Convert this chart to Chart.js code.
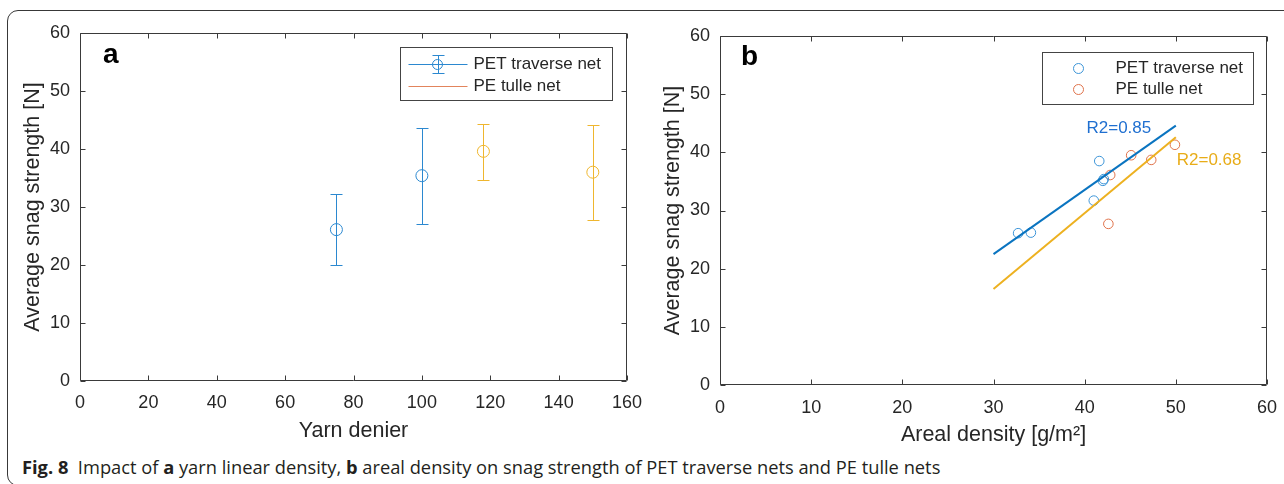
<!DOCTYPE html>
<html><head><meta charset="utf-8">
<script src="https://cdn.jsdelivr.net/npm/chart.js@4.4.0/dist/chart.umd.min.js"></script>
<style>
html,body{margin:0;padding:0;background:#fff;}
body{width:1284px;height:484px;position:relative;overflow:hidden;}
#frame{position:absolute;left:7px;top:10px;width:1320px;height:476px;border:1.4px solid #383838;border-radius:11px;box-sizing:border-box;}
#ca{position:absolute;left:0;top:0;}
#cb{position:absolute;left:640px;top:0;}
#caption{position:absolute;left:22px;top:455px;font-family:'Open Sans',sans-serif;font-size:18.3px;color:#231f20;white-space:nowrap;line-height:24px;}
#caption b{font-weight:700;}
</style></head><body>
<div id="frame"></div>
<canvas id="ca" width="645" height="450"></canvas>
<canvas id="cb" width="644" height="450"></canvas>
<div id="caption"><b>Fig. 8</b>&nbsp; Impact of <b>a</b> yarn linear density, <b>b</b> areal density on snag strength of PET traverse nets and PE tulle nets</div>
<script>
// ---------- data (panel a) ----------
const seriesNames = ['PET traverse net', 'PE tulle net'];
const denierPET = [75, 100];
const snagPET = [26.1, 35.4];
const errLowPET = [20.0, 27.1];
const errHighPET = [32.3, 43.6];
const denierPE = [118, 150];
const snagPE = [39.6, 36.0];
const errLowPE = [34.7, 27.8];
const errHighPE = [44.3, 44.2];
// ---------- data (panel b) ----------
const arealPET = [32.7, 34.1, 41.0, 41.6, 42.1, 42.0];
const snagArealPET = [26.1, 26.2, 31.7, 38.5, 35.4, 35.1];
const arealPE = [42.6, 42.8, 45.1, 47.3, 49.9];
const snagArealPE = [27.7, 36.1, 39.5, 38.7, 41.3];
const fitX = [30, 50];
const fitPET = [22.5, 44.6];
const fitPE = [16.5, 42.6];
const r2Texts = ['R2=0.85', 'R2=0.68'];
// ---------- ticks ----------
const xTicksA = [0, 20, 40, 60, 80, 100, 120, 140, 160];
const xTicksB = [0, 10, 20, 30, 40, 50, 60];
const yTicks = [0, 10, 20, 30, 40, 50, 60];
const xTitleA = 'Yarn denier';
const xTitleB = 'Areal density [g/m²]';
const yTitle = 'Average snag strength [N]';

const FONT = "'Liberation Sans', Arial, Helvetica, sans-serif";
const AX = '#262626';
const blueA = '#2b88d0', yellowA = '#efb62e', orangeLeg = '#e2845c';
const blueM = '#3d95d8', orangeM = '#e0734b', blueL = '#0a74c0', yellowL = '#edb120';

const pts = (xs, ys) => xs.map((x, i) => ({x, y: ys[i]}));
const setTicks = arr => s => { s.ticks = arr.map(v => ({value: v})); };
const fixSize = (prop, val) => s => {
  s[prop] = val;
  s.paddingLeft = 0; s.paddingRight = 0; s.paddingTop = 0; s.paddingBottom = 0;
};

const axesBox = {
  id: 'axesBox',
  afterDraw(chart, args, o) {
    const {ctx, chartArea: a, scales: {x, y}} = chart;
    const L = Math.round(a.left) + 0.5, R = Math.round(a.right) - 0.5, T = Math.round(a.top) + 0.5, B = Math.round(a.bottom) - 0.5;
    ctx.save();
    ctx.strokeStyle = o.color; ctx.lineWidth = 1;
    ctx.beginPath();
    ctx.rect(L, T, R - L, B - T);
    x.ticks.forEach(t => {
      const p = Math.round(x.getPixelForValue(t.value)) + 0.5;
      ctx.moveTo(p, B); ctx.lineTo(p, B - o.len);
      ctx.moveTo(p, T); ctx.lineTo(p, T + o.len);
    });
    y.ticks.forEach(t => {
      const p = Math.round(y.getPixelForValue(t.value)) + 0.5;
      ctx.moveTo(L, p); ctx.lineTo(L + o.len, p);
      ctx.moveTo(R, p); ctx.lineTo(R - o.len, p);
    });
    ctx.stroke();
    ctx.restore();
  }
};

const errorBars = {
  id: 'errorBars',
  afterDatasetsDraw(chart, args, o) {
    const {ctx, scales: {x, y}} = chart;
    chart.data.datasets.forEach(ds => {
      if (!ds.errLow) return;
      ctx.save();
      ctx.strokeStyle = ds.borderColor; ctx.lineWidth = 1;
      ds.data.forEach((p, i) => {
        const px = Math.round(x.getPixelForValue(p.x)) + 0.5;
        const yl = Math.round(y.getPixelForValue(ds.errLow[i])) + 0.5;
        const yh = Math.round(y.getPixelForValue(ds.errHigh[i])) + 0.5;
        ctx.beginPath();
        ctx.moveTo(px, yh); ctx.lineTo(px, yl);
        ctx.moveTo(px - o.cap, yh); ctx.lineTo(px + o.cap, yh);
        ctx.moveTo(px - o.cap, yl); ctx.lineTo(px + o.cap, yl);
        ctx.stroke();
      });
      ctx.restore();
    });
  }
};

const boxLegend = {
  id: 'boxLegend',
  afterDraw(chart, args, o) {
    if (!o.items) return;
    const {ctx, chartArea: a} = chart;
    const left = Math.round(a.right - o.right - o.width) + 0.5;
    const top = Math.round(a.top + o.top) + 0.5;
    ctx.save();
    ctx.fillStyle = '#fff';
    ctx.fillRect(left, top, o.width, o.height);
    ctx.strokeStyle = o.borderColor; ctx.lineWidth = 1;
    ctx.strokeRect(left, top, o.width, o.height);
    o.items.forEach((it, i) => {
      const cy = Math.round(top + o.rows[i]) + 0.5;
      ctx.strokeStyle = it.color; ctx.lineWidth = 1;
      if (it.style === 'line' || it.style === 'errorbar') {
        ctx.beginPath(); ctx.moveTo(left + o.lineFrom, cy); ctx.lineTo(left + o.lineTo, cy); ctx.stroke();
      }
      if (it.style === 'errorbar') {
        const mx = Math.round(left + o.markX) + 0.5;
        ctx.beginPath();
        ctx.moveTo(mx, cy - 9); ctx.lineTo(mx, cy + 9);
        ctx.moveTo(mx - 6, cy - 9); ctx.lineTo(mx + 6, cy - 9);
        ctx.moveTo(mx - 6, cy + 9); ctx.lineTo(mx + 6, cy + 9);
        ctx.stroke();
      }
      if (it.style === 'errorbar' || it.style === 'marker') {
        ctx.beginPath(); ctx.arc(left + o.markX, cy, it.r, 0, Math.PI * 2); ctx.stroke();
      }
      ctx.fillStyle = o.textColor;
      ctx.font = o.font;
      ctx.textBaseline = 'middle';
      ctx.textAlign = 'left';
      ctx.fillText(it.text, left + o.textX, cy);
    });
    ctx.restore();
  }
};

const panelText = {
  id: 'panelText',
  afterDraw(chart, args, o) {
    const {ctx, chartArea: a, scales: {x, y}} = chart;
    ctx.save();
    if (o.letter) {
      ctx.font = o.letterFont; ctx.fillStyle = '#000';
      ctx.textBaseline = 'alphabetic'; ctx.textAlign = 'left';
      ctx.fillText(o.letter, a.left + o.dx, a.top + o.dy);
    }
    (o.notes || []).forEach(n => {
      ctx.font = n.font; ctx.fillStyle = n.color;
      ctx.textBaseline = 'middle'; ctx.textAlign = 'left';
      ctx.fillText(n.text, x.getPixelForValue(n.x), y.getPixelForValue(n.y));
    });
    ctx.restore();
  }
};

function axisCfg(min, max, ticks, title, tickPad, titlePad, afterFit) {
  return {
    type: 'linear', min, max,
    afterBuildTicks: setTicks(ticks),
    afterFit,
    grid: {display: false, drawTicks: false},
    border: {display: false},
    ticks: {color: AX, font: {family: FONT, size: 18}, maxRotation: 0, autoSkip: false, padding: tickPad},
    title: {display: true, text: title, color: AX, font: {family: FONT, size: 21.5}, padding: titlePad}
  };
}

// ---------- panel a ----------
new Chart(document.getElementById('ca'), {
  type: 'scatter',
  data: {datasets: [
    {label: seriesNames[0], data: pts(denierPET, snagPET), errLow: errLowPET, errHigh: errHighPET,
     borderColor: blueA, backgroundColor: 'rgba(0,0,0,0)', pointRadius: 6, pointBorderWidth: 1, pointHoverRadius: 6},
    {label: seriesNames[1], data: pts(denierPE, snagPE), errLow: errLowPE, errHigh: errHighPE,
     borderColor: yellowA, backgroundColor: 'rgba(0,0,0,0)', pointRadius: 6, pointBorderWidth: 1, pointHoverRadius: 6}
  ]},
  options: {
    responsive: false, animation: false, events: [],
    layout: {padding: {left: 0, top: 33, right: 18, bottom: 0}},
    scales: {
      x: axisCfg(0, 160, xTicksA, xTitleA, 11, {top: 0, bottom: 6}, fixSize('height', 69)),
      y: axisCfg(0, 60, yTicks, yTitle, 10, {top: 20, bottom: 0}, fixSize('width', 80))
    },
    plugins: {
      legend: {display: false}, tooltip: {enabled: false},
      axesBox: {color: '#3a3a3a', len: 5},
      errorBars: {cap: 6},
      boxLegend: {right: 15, top: 14, width: 212, height: 53, rows: [16, 38], lineFrom: 8, lineTo: 67, markX: 37, textX: 73,
        borderColor: '#444', textColor: AX, font: '17px ' + FONT,
        items: [{text: seriesNames[0], style: 'errorbar', color: blueA, r: 5},
                {text: seriesNames[1], style: 'line', color: orangeLeg}]},
      panelText: {letter: 'a', letterFont: 'bold 28px ' + FONT, dx: 23, dy: 30}
    }
  },
  plugins: [axesBox, errorBars, boxLegend, panelText]
});

// ---------- panel b ----------
new Chart(document.getElementById('cb'), {
  type: 'scatter',
  data: {datasets: [
    {label: seriesNames[0] + ' fit', data: pts(fitX, fitPET), showLine: true, pointRadius: 0, borderColor: blueL, borderWidth: 2},
    {label: seriesNames[1] + ' fit', data: pts(fitX, fitPE), showLine: true, pointRadius: 0, borderColor: yellowL, borderWidth: 2},
    {label: seriesNames[0], data: pts(arealPET, snagArealPET), borderColor: blueM, backgroundColor: 'rgba(0,0,0,0)', pointRadius: 4.8, pointBorderWidth: 1, pointHoverRadius: 4.8},
    {label: seriesNames[1], data: pts(arealPE, snagArealPE), borderColor: orangeM, backgroundColor: 'rgba(0,0,0,0)', pointRadius: 4.8, pointBorderWidth: 1, pointHoverRadius: 4.8}
  ]},
  options: {
    responsive: false, animation: false, events: [],
    layout: {padding: {left: 0, top: 36, right: 17, bottom: 0}},
    scales: {
      x: axisCfg(0, 60, xTicksB, xTitleB, 12, {top: 0, bottom: 2}, fixSize('height', 65)),
      y: axisCfg(0, 60, yTicks, yTitle, 10, {top: 20, bottom: 0}, fixSize('width', 80))
    },
    plugins: {
      legend: {display: false}, tooltip: {enabled: false},
      axesBox: {color: '#3a3a3a', len: 5},
      boxLegend: {right: 14, top: 16, width: 211, height: 52, rows: [15, 36], lineFrom: 0, lineTo: 0, markX: 36, textX: 73,
        borderColor: '#444', textColor: AX, font: '17px ' + FONT,
        items: [{text: seriesNames[0], style: 'marker', color: blueM, r: 5},
                {text: seriesNames[1], style: 'marker', color: orangeM, r: 5}]},
      panelText: {letter: 'b', letterFont: 'bold 28px ' + FONT, dx: 21, dy: 29,
        notes: [{text: r2Texts[0], x: 40.2, y: 44.2, color: '#1f6fd0', font: '17px ' + FONT},
                {text: r2Texts[1], x: 50.1, y: 38.7, color: '#e8ac18', font: '17px ' + FONT}]}
    }
  },
  plugins: [axesBox, boxLegend, panelText]
});
</script>
</body></html>
